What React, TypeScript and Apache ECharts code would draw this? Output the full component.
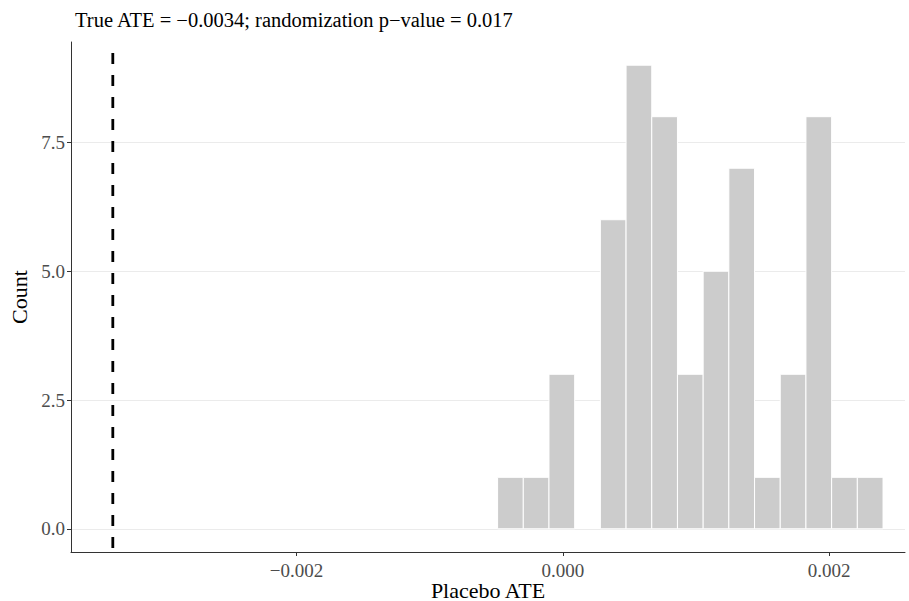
import React, { useEffect, useRef } from "react";
import * as echarts from "echarts";

const titleText = "True ATE = \u22120.0034; randomization p\u2212value = 0.017";
const xAxisTitle = "Placebo ATE";
const yAxisTitle = "Count";
const trueATE = -0.00338;
const binWidth = 0.000193;
const binLefts = [
  -0.00049, -0.000297, -0.000104, 0.000089, 0.000282, 0.000475, 0.000668,
  0.000861, 0.001054, 0.001247, 0.00144, 0.001633, 0.001826, 0.002019, 0.002212,
];
const counts = [1, 1, 3, 0, 6, 9, 8, 3, 5, 7, 1, 3, 8, 1, 1];
const xTicks = [-0.002, 0, 0.002];
const yTicks = [0, 2.5, 5, 7.5];
const yMin = -0.45;
const yMax = 9.45;

const fmtX = (v: number) => {
  const s = Math.abs(v).toFixed(3);
  return v < 0 ? "\u2212" + s : s;
};

export default function App() {
  const ref = useRef<HTMLDivElement>(null);
  useEffect(() => {
    if (!ref.current) return;
    const chart = echarts.init(ref.current, null, { renderer: "svg" });
    const font = "'Liberation Serif', 'DejaVu Serif', serif";
    const data = binLefts.map((l, i) => [l, l + binWidth, counts[i]]);
    chart.setOption({
      animation: false,
      backgroundColor: "#ffffff",
      textStyle: { fontFamily: font },
      title: {
        text: titleText,
        left: 70,
        top: 4,
        textStyle: { fontFamily: font, fontSize: 20.5, fontWeight: "normal", color: "#000" },
      },
      graphic: [
        {
          type: "text",
          x: 488,
          y: 590,
          style: {
            text: xAxisTitle,
            fontFamily: font,
            fontSize: 22,
            fill: "#000",
            align: "center",
            verticalAlign: "middle",
          },
        },
      ],
      grid: { left: 71, right: 4, top: 42, bottom: 49, containLabel: false, outerBoundsMode: "none" },
      xAxis: {
        type: "value",
        min: -0.003694,
        max: 0.00257,
        axisLine: { show: true, onZero: false, lineStyle: { color: "#333", width: 1 } },
        axisTick: { show: true, length: 4, customValues: xTicks, lineStyle: { color: "#333" } },
        axisLabel: {
          customValues: xTicks,
          formatter: (v: number) => fmtX(v),
          fontFamily: font,
          fontSize: 19,
          color: "#4d4d4d",
          margin: 9,
        },
        splitLine: { show: false },
      },
      yAxis: {
        type: "value",
        min: yMin,
        max: yMax,
        name: yAxisTitle,
        nameLocation: "middle",
        nameGap: 40,
        nameRotate: 90,
        nameTextStyle: { fontFamily: font, fontSize: 22, color: "#000" },
        axisLine: { show: true, onZero: false, lineStyle: { color: "#333", width: 1 } },
        axisTick: { show: true, length: 4, customValues: yTicks, lineStyle: { color: "#333" } },
        axisLabel: {
          customValues: yTicks,
          formatter: (v: number) => v.toFixed(1),
          fontFamily: font,
          fontSize: 19,
          color: "#4d4d4d",
          margin: 6,
        },
        splitLine: { show: true, lineStyle: { color: "#ebebeb", width: 1 } },
      },
      series: [
        {
          type: "custom",
          z: 2,
          data,
          renderItem: (params: any, api: any) => {
            const x0 = api.value(0);
            const x1 = api.value(1);
            const c = api.value(2);
            if (!c) return null;
            const p0 = api.coord([x0, c]);
            const p1 = api.coord([x1, 0]);
            return {
              type: "rect",
              shape: { x: p0[0], y: p0[1], width: p1[0] - p0[0], height: p1[1] - p0[1] },
              style: { fill: "#cccccc", stroke: "#ffffff", lineWidth: 1 },
            };
          },
        },
        {
          type: "line",
          z: 3,
          silent: true,
          symbol: "none",
          data: [
            [trueATE, yMax],
            [trueATE, yMin],
          ],
          lineStyle: { color: "#000", width: 2.8, type: [11, 11], dashOffset: 11 },
        },
      ],
    });
    return () => chart.dispose();
  }, []);
  return <div ref={ref} style={{ width: 909, height: 601, position: "absolute", left: 0, top: 0 }} />;
}
